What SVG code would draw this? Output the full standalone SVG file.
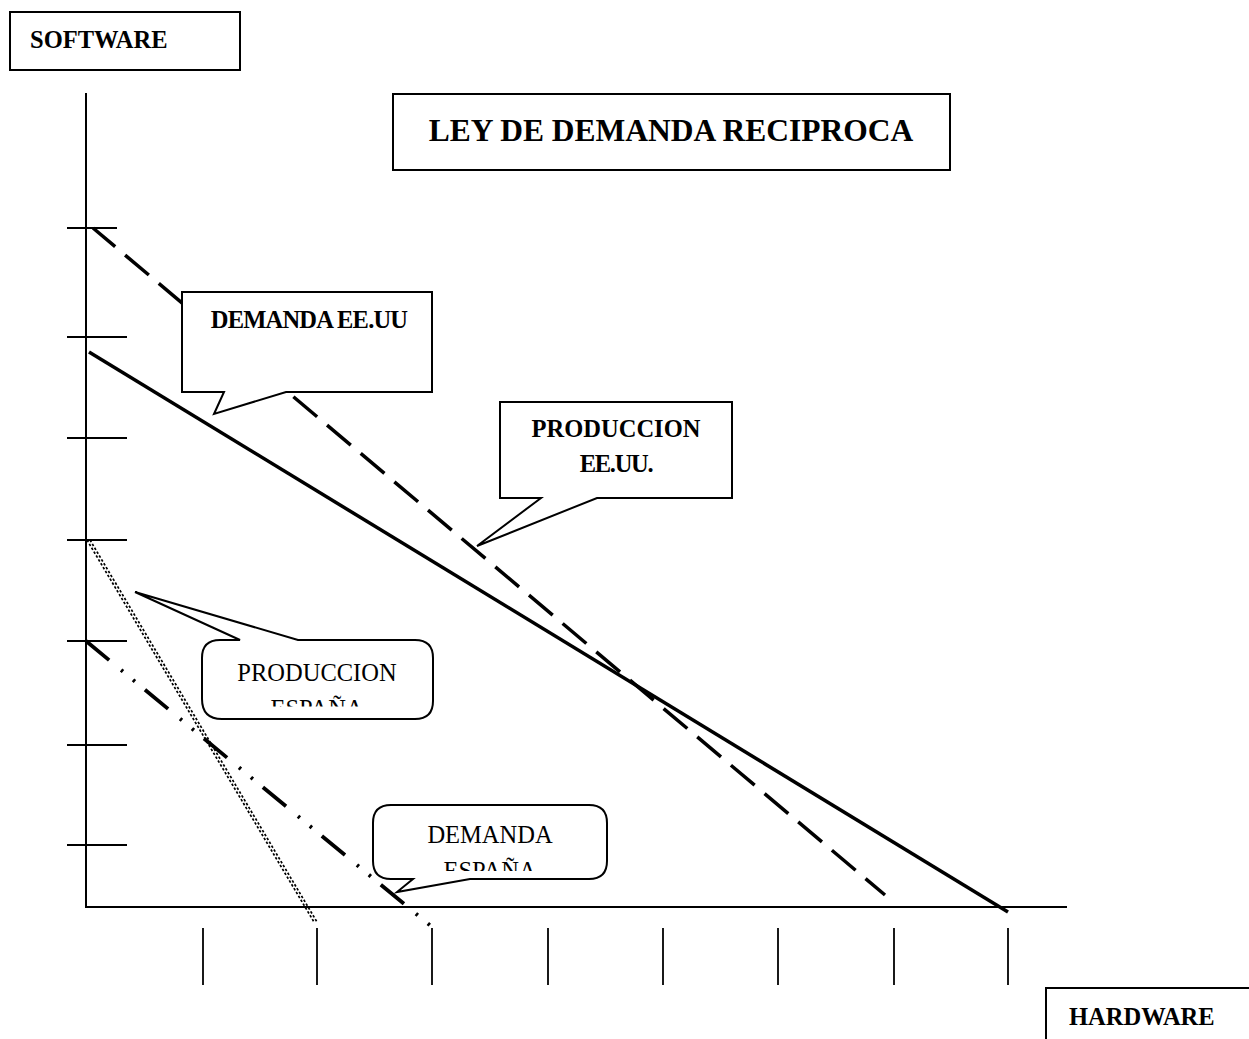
<svg xmlns="http://www.w3.org/2000/svg" width="1249" height="1039" viewBox="0 0 1249 1039">
  <style>
    .box { fill: #fff; stroke: #000; stroke-width: 2; }
    .axis { stroke: #000; stroke-width: 2; fill: none; }
    .tick { stroke: #000; stroke-width: 1.8; fill: none; }
    .tb { font-family: "Liberation Serif", "Times New Roman", serif; font-weight: bold; fill: #000; }
    .tr { font-family: "Liberation Serif", "Times New Roman", serif; fill: #000; }
  </style>
  <defs>
    <clipPath id="clipPE"><rect x="202" y="640" width="231" height="66.5"/></clipPath>
    <clipPath id="clipDE"><rect x="373" y="805" width="234" height="66"/></clipPath>
  </defs>
  <rect width="1249" height="1039" fill="#fff"/>

  <g id="axes">
    <line class="axis" x1="86" y1="93" x2="86" y2="908"/>
    <line class="axis" x1="85" y1="907" x2="1067" y2="907"/>
    <g id="yticks">
      <line class="tick" x1="67" y1="228" x2="117" y2="228"/>
      <line class="tick" x1="67" y1="337" x2="127" y2="337"/>
      <line class="tick" x1="67" y1="438" x2="127" y2="438"/>
      <line class="tick" x1="67" y1="540" x2="127" y2="540"/>
      <line class="tick" x1="67" y1="641" x2="127" y2="641"/>
      <line class="tick" x1="67" y1="745" x2="127" y2="745"/>
      <line class="tick" x1="67" y1="845" x2="127" y2="845"/>
    </g>
    <g id="xticks">
      <line class="tick" x1="203" y1="928" x2="203" y2="985"/>
      <line class="tick" x1="317" y1="928" x2="317" y2="985"/>
      <line class="tick" x1="432" y1="928" x2="432" y2="985"/>
      <line class="tick" x1="548" y1="928" x2="548" y2="985"/>
      <line class="tick" x1="663" y1="928" x2="663" y2="985"/>
      <line class="tick" x1="778" y1="928" x2="778" y2="985"/>
      <line class="tick" x1="894" y1="928" x2="894" y2="985"/>
      <line class="tick" x1="1008" y1="928" x2="1008" y2="985"/>
    </g>
  </g>

  <g id="connectors">
    <line id="demanda-eeuu" x1="93" y1="228" x2="885" y2="895" stroke="#000" stroke-width="3.5" stroke-dasharray="31 13" stroke-dashoffset="2"/>
    <line id="produccion-eeuu" x1="89" y1="352" x2="1008" y2="912" stroke="#000" stroke-width="3.5"/>
    <g id="produccion-espana" stroke="#000" stroke-width="1.7" stroke-dasharray="2.5 2">
      <line x1="87" y1="540" x2="314" y2="922"/>
      <line x1="90" y1="540" x2="317" y2="922"/>
    </g>
    <line id="demanda-espana" x1="86" y1="641" x2="432" y2="927" stroke="#000" stroke-width="3.8" stroke-dasharray="30 15.5 2.5 13 2.5 13"/>
  </g>

  <g id="title">
    <rect class="box" x="393" y="94" width="557" height="76"/>
    <text class="tb" x="671" y="141" font-size="31.5" text-anchor="middle">LEY DE DEMANDA RECIPROCA</text>
  </g>

  <g id="software">
    <rect class="box" x="10" y="12" width="230" height="58"/>
    <text class="tb" x="30" y="48" font-size="24.5">SOFTWARE</text>
  </g>

  <g id="hardware">
    <rect class="box" x="1046" y="988" width="215" height="70"/>
    <text class="tb" x="1069" y="1025" font-size="24.5">HARDWARE</text>
  </g>

  <g id="callout-demanda-eeuu">
    <path class="box" d="M182,292 H432 V392 H286 L214,414 L224,392 H182 Z"/>
    <text class="tb" x="309" y="328" font-size="24.5" text-anchor="middle" letter-spacing="-0.8">DEMANDA EE.UU</text>
  </g>

  <g id="callout-produccion-eeuu">
    <path class="box" d="M500,402 H732 V498 H597 L477,546 L541,498 H500 Z"/>
    <text class="tb" x="616" y="437" font-size="24.5" text-anchor="middle">PRODUCCION</text>
    <text class="tb" x="616" y="472" font-size="24.5" text-anchor="middle" letter-spacing="-1.3">EE.UU.</text>
  </g>

  <g id="callout-produccion-espana">
    <path class="box" d="M220,640 H240 L135,592 L298,640 H415 Q433,640 433,658 V701 Q433,719 415,719 H222 Q202,719 202,699 V658 Q202,640 220,640 Z"/>
    <g clip-path="url(#clipPE)">
      <text class="tr" x="317" y="681" font-size="24.5" text-anchor="middle">PRODUCCION</text>
      <text class="tr" x="317" y="717" font-size="24.5" text-anchor="middle">ESPAÑA</text>
    </g>
  </g>

  <g id="callout-demanda-espana">
    <path class="box" d="M391,805 H589 Q607,805 607,823 V861 Q607,879 589,879 H470 L397,892 L413,879 H391 Q373,879 373,861 V823 Q373,805 391,805 Z"/>
    <g clip-path="url(#clipDE)">
      <text class="tr" x="490" y="843" font-size="24.5" text-anchor="middle">DEMANDA</text>
      <text class="tr" x="490" y="879" font-size="24.5" text-anchor="middle">ESPAÑA</text>
    </g>
  </g>
</svg>
